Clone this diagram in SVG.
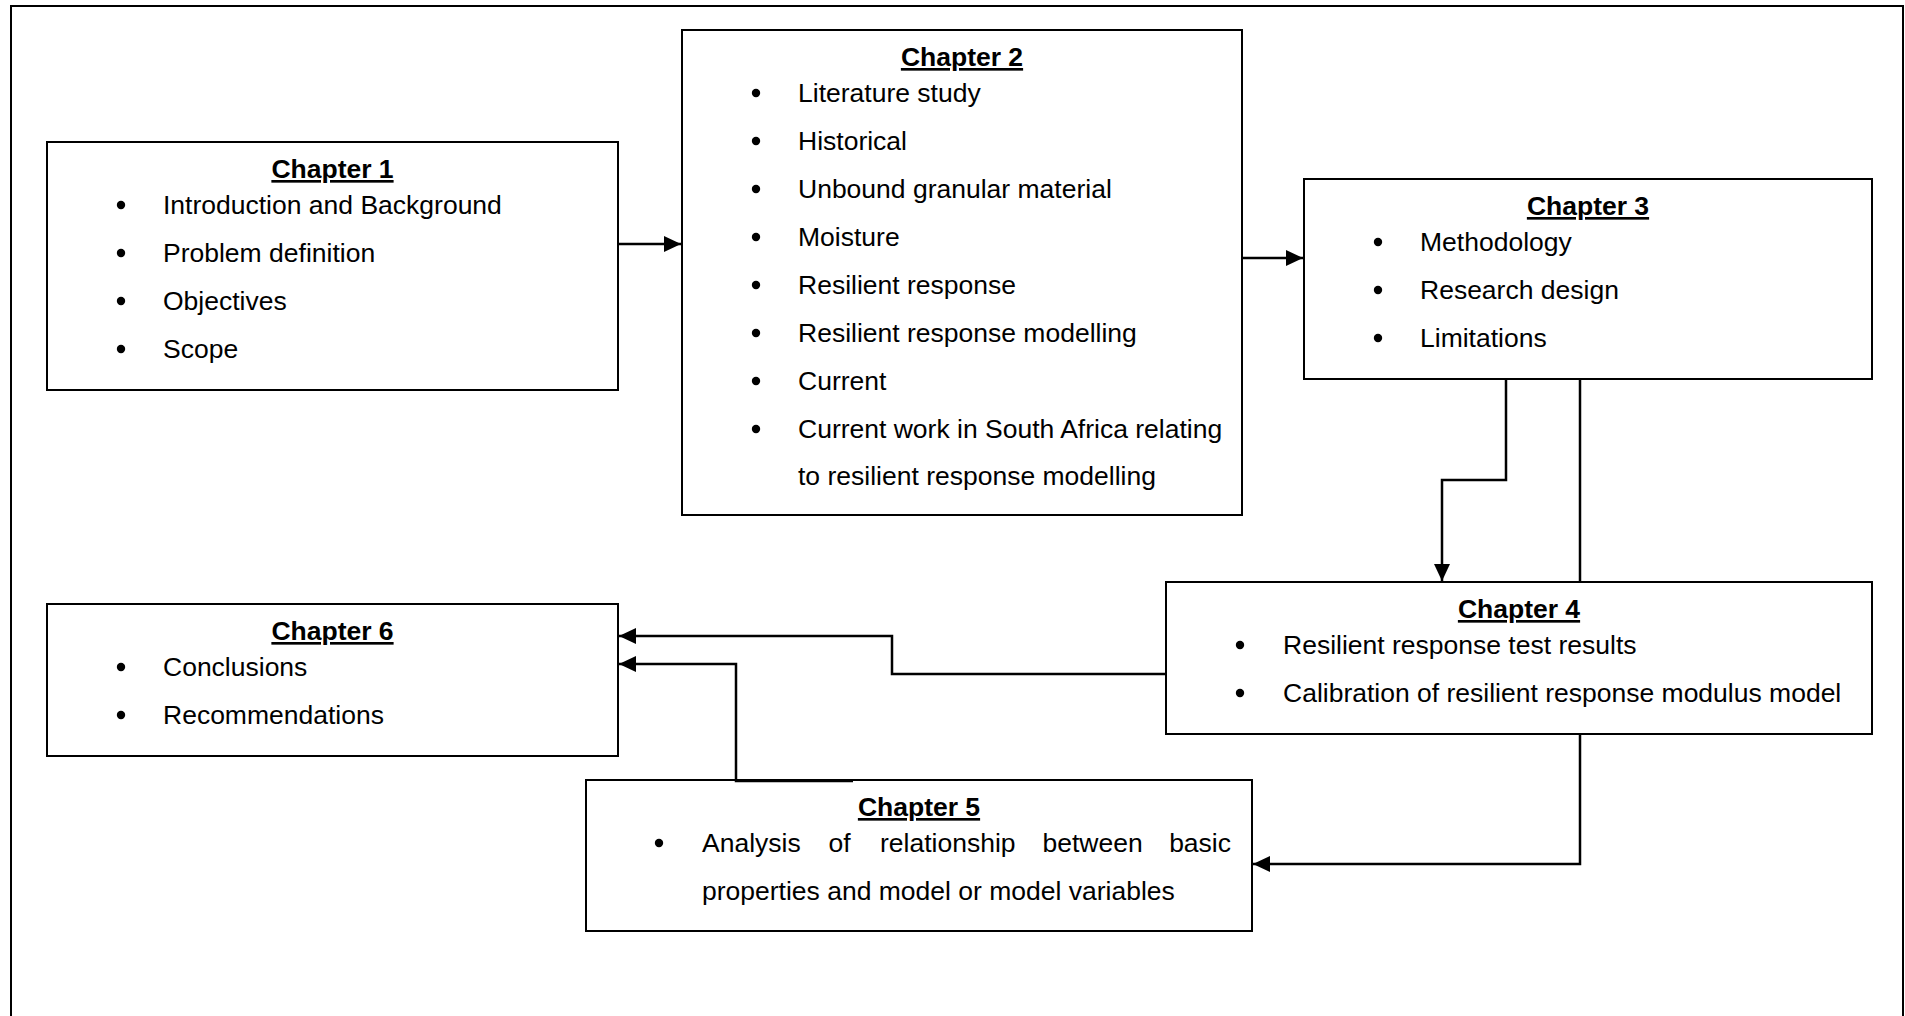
<svg xmlns="http://www.w3.org/2000/svg" width="1905" height="1016" viewBox="0 0 1905 1016">
  <style>
    .box { fill: #ffffff; stroke: #000000; stroke-width: 2; }
    .frame { fill: none; stroke: #000000; stroke-width: 2; }
    .link { fill: none; stroke: #000000; stroke-width: 2.5; }
    text { font-family: "Liberation Sans", Arial, sans-serif; font-size: 26.5px; fill: #000000; }
    .title { font-weight: bold; text-decoration: underline; text-anchor: middle; }
  </style>
  <defs>
    <marker id="arrow" markerUnits="userSpaceOnUse" markerWidth="18" markerHeight="18" viewBox="0 0 18 18" refX="17" refY="9" orient="auto">
      <path d="M0,1 L17,9 L0,17 Z" fill="#000000"/>
    </marker>
    <circle id="dot" r="4.2" fill="#000000"/>
  </defs>

  <rect width="1905" height="1016" fill="#ffffff"/>

  <!-- outer frame (open at the bottom) -->
  <path class="frame" d="M11,1016 L11,6 L1903,6 L1903,1016"/>

  <!-- Chapter 1 -->
  <g id="chapter1">
    <rect class="box" x="47" y="142" width="571" height="248"/>
    <text class="title" x="332.5" y="178">Chapter 1</text>
    <use href="#dot" x="121" y="205"/><text x="163" y="214">Introduction and Background</text>
    <use href="#dot" x="121" y="253"/><text x="163" y="262">Problem definition</text>
    <use href="#dot" x="121" y="301"/><text x="163" y="310">Objectives</text>
    <use href="#dot" x="121" y="349"/><text x="163" y="358">Scope</text>
  </g>

  <!-- Chapter 2 -->
  <g id="chapter2">
    <rect class="box" x="682" y="30" width="560" height="485"/>
    <text class="title" x="962" y="66">Chapter 2</text>
    <use href="#dot" x="756" y="93"/><text x="798" y="102">Literature study</text>
    <use href="#dot" x="756" y="141"/><text x="798" y="150">Historical</text>
    <use href="#dot" x="756" y="189"/><text x="798" y="198">Unbound granular material</text>
    <use href="#dot" x="756" y="237"/><text x="798" y="246">Moisture</text>
    <use href="#dot" x="756" y="285"/><text x="798" y="294">Resilient response</text>
    <use href="#dot" x="756" y="333"/><text x="798" y="342">Resilient response modelling</text>
    <use href="#dot" x="756" y="381"/><text x="798" y="390">Current</text>
    <use href="#dot" x="756" y="429"/><text x="798" y="438">Current work in South Africa relating</text>
    <text x="798" y="485">to resilient response modelling</text>
  </g>

  <!-- Chapter 3 -->
  <g id="chapter3">
    <rect class="box" x="1304" y="179" width="568" height="200"/>
    <text class="title" x="1588" y="215">Chapter 3</text>
    <use href="#dot" x="1378" y="242"/><text x="1420" y="251">Methodology</text>
    <use href="#dot" x="1378" y="290"/><text x="1420" y="299">Research design</text>
    <use href="#dot" x="1378" y="338"/><text x="1420" y="347">Limitations</text>
  </g>

  <!-- Chapter 4 -->
  <g id="chapter4">
    <rect class="box" x="1166" y="582" width="706" height="152"/>
    <text class="title" x="1519" y="618">Chapter 4</text>
    <use href="#dot" x="1240" y="645"/><text x="1283" y="654">Resilient response test results</text>
    <use href="#dot" x="1240" y="693"/><text x="1283" y="702">Calibration of resilient response modulus model</text>
  </g>

  <!-- Chapter 5 -->
  <g id="chapter5">
    <rect class="box" x="586" y="780" width="666" height="151"/>
    <text class="title" x="919" y="816">Chapter 5</text>
    <use href="#dot" x="659" y="843"/>
    <text x="702" y="852">Analysis</text>
    <text x="828.5" y="852">of</text>
    <text x="880" y="852">relationship</text>
    <text x="1042.5" y="852">between</text>
    <text x="1231" y="852" text-anchor="end">basic</text>
    <text x="702" y="900">properties and model or model variables</text>
  </g>

  <!-- Chapter 6 -->
  <g id="chapter6">
    <rect class="box" x="47" y="604" width="571" height="152"/>
    <text class="title" x="332.5" y="640">Chapter 6</text>
    <use href="#dot" x="121" y="667"/><text x="163" y="676">Conclusions</text>
    <use href="#dot" x="121" y="715"/><text x="163" y="724">Recommendations</text>
  </g>

  <!-- connectors -->
  <g id="connectors">
    <path class="link" d="M618,244 L681,244" marker-end="url(#arrow)"/>
    <path class="link" d="M1242,258 L1303,258" marker-end="url(#arrow)"/>
    <path class="link" d="M1506,379 L1506,480 L1442,480 L1442,581" marker-end="url(#arrow)"/>
    <path class="link" d="M1580,379 L1580,582"/>
    <path class="link" d="M1580,734 L1580,864 L1253,864" marker-end="url(#arrow)"/>
    <path class="link" d="M1166,674 L892,674 L892,636 L619,636" marker-end="url(#arrow)"/>
    <path class="link" d="M853,781 L736,781 L736,664 L619,664" marker-end="url(#arrow)"/>
  </g>
</svg>
